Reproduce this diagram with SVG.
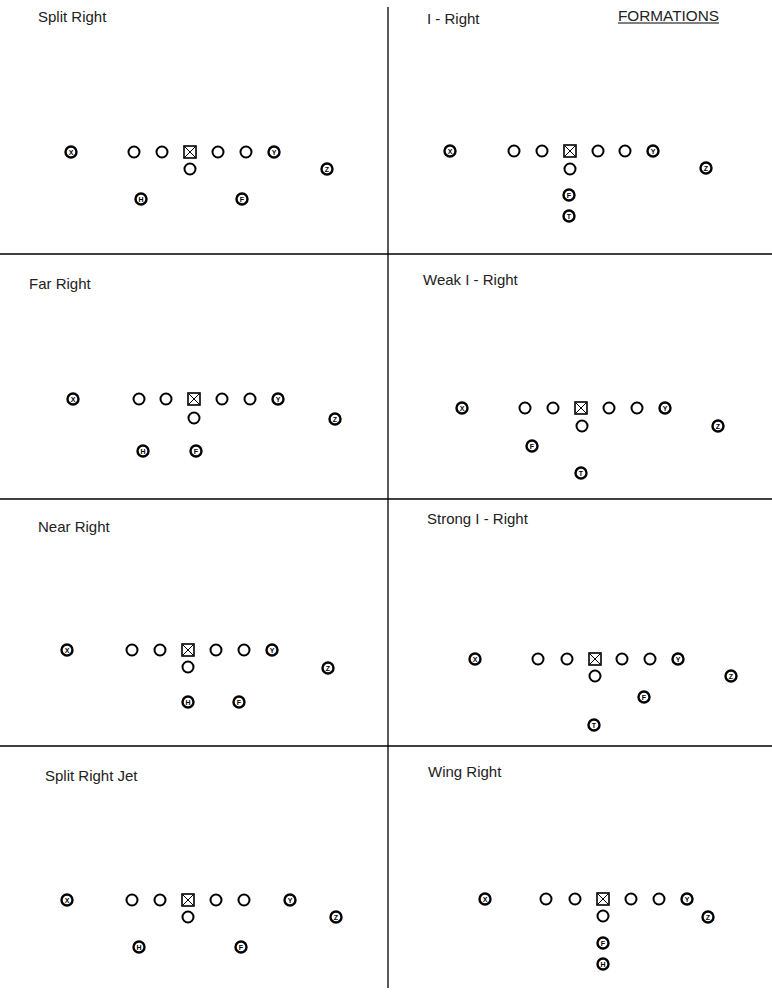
<svg xmlns="http://www.w3.org/2000/svg" width="772" height="995" viewBox="0 0 772 995">
<style>
.t{font-family:"Liberation Sans",Arial,sans-serif;font-size:15px;fill:#222}
.o{fill:#fff;stroke:#000;stroke-width:2}
.p{fill:#fff;stroke:#000;stroke-width:2.4}
.l{font-family:"Liberation Sans",Arial,sans-serif;font-size:7px;font-weight:bold;fill:#000;text-anchor:middle;dominant-baseline:central}
.c{fill:#fff;stroke:#000;stroke-width:1.6}
.x{stroke:#000;stroke-width:1}
.ln{stroke:#000;stroke-width:1.3;fill:none}
</style>
<defs>
<g id="O"><circle class="o" r="5.5"/></g>
<g id="C"><rect class="c" x="-6" y="-6" width="12" height="12"/><path class="x" d="M-5,-5L5,5M5,-5L-5,5"/></g>
</defs>
<rect width="772" height="995" fill="#fff"/>
<g id="connectors">
<line class="ln" x1="388" y1="7" x2="388" y2="988"/>
<line class="ln" x1="0" y1="254" x2="772" y2="254"/>
<line class="ln" x1="0" y1="499" x2="772" y2="499"/>
<line class="ln" x1="0" y1="746" x2="772" y2="746"/>
</g>

<g id="panel-split-right">
<text class="t" x="38" y="22">Split Right</text>
<g id="sr-x"><circle class="p" cx="71" cy="152" r="5.5"/><text class="l" x="71" y="152">X</text></g>
<use href="#O" x="134" y="152"/><use href="#O" x="162" y="152"/>
<use href="#C" x="190" y="152"/>
<use href="#O" x="218" y="152"/><use href="#O" x="246" y="152"/>
<g id="sr-y"><circle class="p" cx="274" cy="152" r="5.5"/><text class="l" x="274" y="152">Y</text></g>
<use href="#O" x="190" y="169"/>
<g id="sr-z"><circle class="p" cx="327" cy="169" r="5.5"/><text class="l" x="327" y="169">Z</text></g>
<g id="sr-h"><circle class="p" cx="141" cy="199" r="5.5"/><text class="l" x="141" y="199">H</text></g>
<g id="sr-f"><circle class="p" cx="242" cy="199" r="5.5"/><text class="l" x="242" y="199">F</text></g>
</g>

<g id="panel-i-right">
<text class="t" x="427" y="24">I - Right</text>
<text class="t" x="618" y="21" textLength="101" lengthAdjust="spacingAndGlyphs">FORMATIONS</text>
<line x1="618" y1="23" x2="719" y2="23" stroke="#000" stroke-width="1"/>
<g id="ir-x"><circle class="p" cx="450" cy="151" r="5.5"/><text class="l" x="450" y="151">X</text></g>
<use href="#O" x="514" y="151"/><use href="#O" x="542" y="151"/>
<use href="#C" x="570" y="151"/>
<use href="#O" x="598" y="151"/><use href="#O" x="625" y="151"/>
<g id="ir-y"><circle class="p" cx="653" cy="151" r="5.5"/><text class="l" x="653" y="151">Y</text></g>
<use href="#O" x="570" y="169"/>
<g id="ir-z"><circle class="p" cx="706" cy="168" r="5.5"/><text class="l" x="706" y="168">Z</text></g>
<g id="ir-f"><circle class="p" cx="569" cy="195" r="5.5"/><text class="l" x="569" y="195">F</text></g>
<g id="ir-t"><circle class="p" cx="569" cy="216" r="5.5"/><text class="l" x="569" y="216">T</text></g>
</g>

<g id="panel-far-right">
<text class="t" x="29" y="289">Far Right</text>
<g id="fr-x"><circle class="p" cx="73" cy="399" r="5.5"/><text class="l" x="73" y="399">X</text></g>
<use href="#O" x="139" y="399"/><use href="#O" x="166" y="399"/>
<use href="#C" x="194" y="399"/>
<use href="#O" x="222" y="399"/><use href="#O" x="250" y="399"/>
<g id="fr-y"><circle class="p" cx="278" cy="399" r="5.5"/><text class="l" x="278" y="399">Y</text></g>
<use href="#O" x="194" y="418"/>
<g id="fr-z"><circle class="p" cx="335" cy="419" r="5.5"/><text class="l" x="335" y="419">Z</text></g>
<g id="fr-h"><circle class="p" cx="143" cy="451" r="5.5"/><text class="l" x="143" y="451">H</text></g>
<g id="fr-f"><circle class="p" cx="196" cy="451" r="5.5"/><text class="l" x="196" y="451">F</text></g>
</g>

<g id="panel-weak-i-right">
<text class="t" x="423" y="285">Weak I - Right</text>
<g id="wi-x"><circle class="p" cx="462" cy="408" r="5.5"/><text class="l" x="462" y="408">X</text></g>
<use href="#O" x="525" y="408"/><use href="#O" x="553" y="408"/>
<use href="#C" x="581" y="408"/>
<use href="#O" x="609" y="408"/><use href="#O" x="637" y="408"/>
<g id="wi-y"><circle class="p" cx="665" cy="408" r="5.5"/><text class="l" x="665" y="408">Y</text></g>
<use href="#O" x="582" y="426"/>
<g id="wi-z"><circle class="p" cx="718" cy="426" r="5.5"/><text class="l" x="718" y="426">Z</text></g>
<g id="wi-f"><circle class="p" cx="532" cy="446" r="5.5"/><text class="l" x="532" y="446">F</text></g>
<g id="wi-t"><circle class="p" cx="581" cy="473" r="5.5"/><text class="l" x="581" y="473">T</text></g>
</g>

<g id="panel-near-right">
<text class="t" x="38" y="532">Near Right</text>
<g id="nr-x"><circle class="p" cx="67" cy="650" r="5.5"/><text class="l" x="67" y="650">X</text></g>
<use href="#O" x="132" y="650"/><use href="#O" x="160" y="650"/>
<use href="#C" x="188" y="650"/>
<use href="#O" x="216" y="650"/><use href="#O" x="244" y="650"/>
<g id="nr-y"><circle class="p" cx="272" cy="650" r="5.5"/><text class="l" x="272" y="650">Y</text></g>
<use href="#O" x="188" y="667"/>
<g id="nr-z"><circle class="p" cx="328" cy="668" r="5.5"/><text class="l" x="328" y="668">Z</text></g>
<g id="nr-h"><circle class="p" cx="188" cy="702" r="5.5"/><text class="l" x="188" y="702">H</text></g>
<g id="nr-f"><circle class="p" cx="239" cy="702" r="5.5"/><text class="l" x="239" y="702">F</text></g>
</g>

<g id="panel-strong-i-right">
<text class="t" x="427" y="524">Strong I - Right</text>
<g id="si-x"><circle class="p" cx="475" cy="659" r="5.5"/><text class="l" x="475" y="659">X</text></g>
<use href="#O" x="538" y="659"/><use href="#O" x="567" y="659"/>
<use href="#C" x="595" y="659"/>
<use href="#O" x="622" y="659"/><use href="#O" x="650" y="659"/>
<g id="si-y"><circle class="p" cx="678" cy="659" r="5.5"/><text class="l" x="678" y="659">Y</text></g>
<use href="#O" x="595" y="676"/>
<g id="si-z"><circle class="p" cx="731" cy="676" r="5.5"/><text class="l" x="731" y="676">Z</text></g>
<g id="si-f"><circle class="p" cx="644" cy="697" r="5.5"/><text class="l" x="644" y="697">F</text></g>
<g id="si-t"><circle class="p" cx="594" cy="725" r="5.5"/><text class="l" x="594" y="725">T</text></g>
</g>

<g id="panel-split-right-jet">
<text class="t" x="45" y="781">Split Right Jet</text>
<g id="sj-x"><circle class="p" cx="67" cy="900" r="5.5"/><text class="l" x="67" y="900">X</text></g>
<use href="#O" x="132" y="900"/><use href="#O" x="160" y="900"/>
<use href="#C" x="188" y="900"/>
<use href="#O" x="216" y="900"/><use href="#O" x="244" y="900"/>
<g id="sj-y"><circle class="p" cx="290" cy="900" r="5.5"/><text class="l" x="290" y="900">Y</text></g>
<use href="#O" x="188" y="917"/>
<g id="sj-z"><circle class="p" cx="336" cy="917" r="5.5"/><text class="l" x="336" y="917">Z</text></g>
<g id="sj-h"><circle class="p" cx="139" cy="947" r="5.5"/><text class="l" x="139" y="947">H</text></g>
<g id="sj-f"><circle class="p" cx="241" cy="947" r="5.5"/><text class="l" x="241" y="947">F</text></g>
</g>

<g id="panel-wing-right">
<text class="t" x="428" y="777">Wing Right</text>
<g id="wr-x"><circle class="p" cx="485" cy="899" r="5.5"/><text class="l" x="485" y="899">X</text></g>
<use href="#O" x="546" y="899"/><use href="#O" x="575" y="899"/>
<use href="#C" x="603" y="899"/>
<use href="#O" x="631" y="899"/><use href="#O" x="659" y="899"/>
<g id="wr-y"><circle class="p" cx="687" cy="899" r="5.5"/><text class="l" x="687" y="899">Y</text></g>
<use href="#O" x="603" y="916"/>
<g id="wr-z"><circle class="p" cx="708" cy="917" r="5.5"/><text class="l" x="708" y="917">Z</text></g>
<g id="wr-f"><circle class="p" cx="603" cy="943" r="5.5"/><text class="l" x="603" y="943">F</text></g>
<g id="wr-h"><circle class="p" cx="603" cy="964" r="5.5"/><text class="l" x="603" y="964">H</text></g>
</g>
</svg>
